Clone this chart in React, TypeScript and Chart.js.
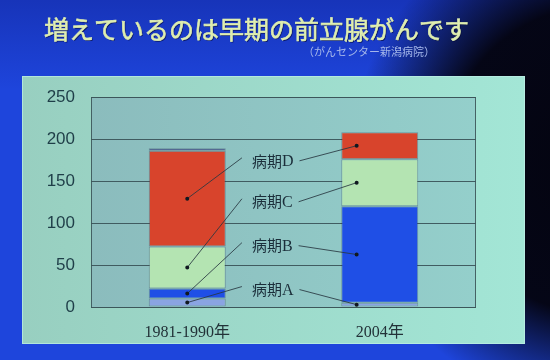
import React, { useEffect, useRef } from "react";
import { Chart, registerables } from "chart.js";

Chart.register(...registerables);

const categories = ["1981-1990年", "2004年"];
const stageA = [10, 5];
const stageB = [12, 115];
const stageC = [50, 56];
const stageD = [114, 32];
const stageUnknown = [3, 0];
const stageNames = ["病期A", "病期B", "病期C", "病期D"];
const yMin = 0;
const yMax = 250;
const yStep = 50;
const titleText = "増えているのは早期の前立腺がんです";
const sourceText = "（がんセンター新潟病院）";

const CJK = '"Noto Sans CJK JP", sans-serif';
const SERIF = '"Liberation Serif", "DejaVu Serif", "Noto Sans CJK JP", serif';

const slidePlugin = {
  id: "slide",
  beforeDraw(chart: any) {
    const { ctx, width, height, chartArea } = chart;
    ctx.save();
    ctx.fillStyle = "#1e45dc";
    ctx.fillRect(0, 0, width, height);
    const top = ctx.createLinearGradient(0, 0, 0, 90);
    top.addColorStop(0, "rgba(10,20,120,0.35)");
    top.addColorStop(1, "rgba(10,20,120,0)");
    ctx.fillStyle = top;
    ctx.fillRect(0, 0, width, 90);
    const rg = ctx.createRadialGradient(600, 160, 10, 600, 160, 250);
    rg.addColorStop(0, "rgba(4,4,16,1)");
    rg.addColorStop(0.6, "rgba(4,4,16,0.97)");
    rg.addColorStop(1, "rgba(4,4,16,0)");
    ctx.fillStyle = rg;
    ctx.fillRect(0, 0, width, height);
    // title
    ctx.font = `25px ${CJK}`;
    ctx.textBaseline = "middle";
    ctx.textAlign = "left";
    ctx.fillStyle = "rgba(0,0,40,0.6)";
    ctx.fillText(titleText, 45, 30);
    ctx.fillStyle = "#dfeeb0";
    ctx.strokeStyle = "#dfeeb0";
    ctx.lineWidth = 0.6;
    ctx.fillText(titleText, 44, 29);
    ctx.strokeText(titleText, 44, 29);
    ctx.font = `11px ${CJK}`;
    ctx.fillStyle = "#a4b6ea";
    ctx.fillText(sourceText, 303, 52);
    // panel
    const pg = ctx.createLinearGradient(22, 0, 525, 0);
    pg.addColorStop(0, "#98cfc0");
    pg.addColorStop(1, "#a3e6d6");
    ctx.fillStyle = pg;
    ctx.fillRect(22, 76, 503, 268);
    ctx.strokeStyle = "rgba(190,240,230,0.7)";
    ctx.lineWidth = 1;
    ctx.strokeRect(22.5, 76.5, 502, 267);
    // plot area
    const ag = ctx.createLinearGradient(chartArea.left, 0, chartArea.right, 0);
    ag.addColorStop(0, "#8bbcbd");
    ag.addColorStop(1, "#94cfcb");
    ctx.fillStyle = ag;
    ctx.fillRect(chartArea.left, chartArea.top, chartArea.right - chartArea.left, chartArea.bottom - chartArea.top);
    ctx.restore();
  },
  afterDatasetsDraw(chart: any) {
    const { ctx, chartArea } = chart;
    ctx.save();
    ctx.strokeStyle = "rgba(60,85,90,0.9)";
    ctx.lineWidth = 1;
    ctx.strokeRect(chartArea.left + 0.5, chartArea.top + 0.5, chartArea.right - chartArea.left - 1, chartArea.bottom - chartArea.top);
    const fracs = [0.917, 0.708, 0.499, 0.304];
    const h = chartArea.bottom - chartArea.top;
    const labelX = chartArea.left + 0.418 * (chartArea.right - chartArea.left);
    for (let i = 0; i < stageNames.length; i++) {
      const meta = chart.getDatasetMeta(i);
      const e0 = meta.data[0];
      const e1 = meta.data[1];
      const ly = chartArea.top + fracs[i] * h;
      const name = stageNames[i];
      const cjkPart = name.slice(0, 2);
      const latin = name.slice(2);
      ctx.font = `15px ${CJK}`;
      const w1 = ctx.measureText(cjkPart).width;
      ctx.font = `16px ${SERIF}`;
      const w2 = ctx.measureText(latin).width;
      const d0x = e0.x;
      const d0y = (e0.y + e0.base) / 2;
      const d1x = e1.x - e1.width * 0.3;
      const d1y = (e1.y + e1.base) / 2;
      ctx.strokeStyle = "rgba(40,55,65,0.85)";
      ctx.lineWidth = 1;
      ctx.beginPath();
      ctx.moveTo(d0x, d0y);
      ctx.lineTo(labelX - 10, ly - 3);
      ctx.moveTo(labelX + w1 + w2 + 6, ly);
      ctx.lineTo(d1x, d1y);
      ctx.stroke();
      ctx.fillStyle = "#101820";
      ctx.beginPath();
      ctx.arc(d0x, d0y, 2, 0, Math.PI * 2);
      ctx.arc(d1x, d1y, 2, 0, Math.PI * 2);
      ctx.fill();
      ctx.fillStyle = "#1b2e3a";
      ctx.textBaseline = "middle";
      ctx.textAlign = "left";
      ctx.font = `15px ${CJK}`;
      ctx.fillText(cjkPart, labelX, ly);
      ctx.font = `16px ${SERIF}`;
      ctx.fillText(latin, labelX + w1, ly + 1);
    }
    ctx.restore();
  },
};

export default function App() {
  const ref = useRef<HTMLCanvasElement>(null);
  useEffect(() => {
    if (!ref.current) return;
    const mk = (label: string, data: number[], color: string) => ({
      label,
      data,
      backgroundColor: color,
      borderColor: "rgba(40,50,80,0.35)",
      borderWidth: 1,
      borderSkipped: false,
      categoryPercentage: 1,
      barPercentage: 0.4,
    });
    const chart = new Chart(ref.current, {
      type: "bar",
      data: {
        labels: categories,
        datasets: [
          mk(stageNames[0], stageA, "#8aa4e2"),
          mk(stageNames[1], stageB, "#1f4fe6"),
          mk(stageNames[2], stageC, "#b4e4b2"),
          mk(stageNames[3], stageD, "#d8442c"),
          mk("", stageUnknown, "#2c2a78"),
        ],
      },
      options: {
        responsive: false,
        animation: false,
        layout: { padding: { left: 22, right: 74, top: 97, bottom: 16 } },
        plugins: { legend: { display: false }, tooltip: { enabled: false } },
        scales: {
          x: {
            stacked: true,
            grid: { display: false },
            border: { display: false },
            ticks: { color: "#223238", font: { family: SERIF, size: 16 }, padding: 8 },
            afterFit: (s: any) => { s.height = 37; },
          },
          y: {
            stacked: true,
            min: yMin,
            max: yMax,
            ticks: { stepSize: yStep, color: "#1f3e48", font: { family: '"Liberation Sans", Arial, sans-serif', size: 17 }, padding: 16 },
            grid: { color: "rgba(55,80,85,0.9)", drawTicks: false },
            border: { display: false },
            afterFit: (s: any) => { s.width = 69; },
          },
        },
      },
      plugins: [slidePlugin],
    });
    return () => chart.destroy();
  }, []);
  return (
    <div style={{ position: "absolute", left: 0, top: 0, width: 550, height: 360 }}>
      <canvas ref={ref} width={550} height={360} style={{ width: 550, height: 360, display: "block" }} />
    </div>
  );
}
